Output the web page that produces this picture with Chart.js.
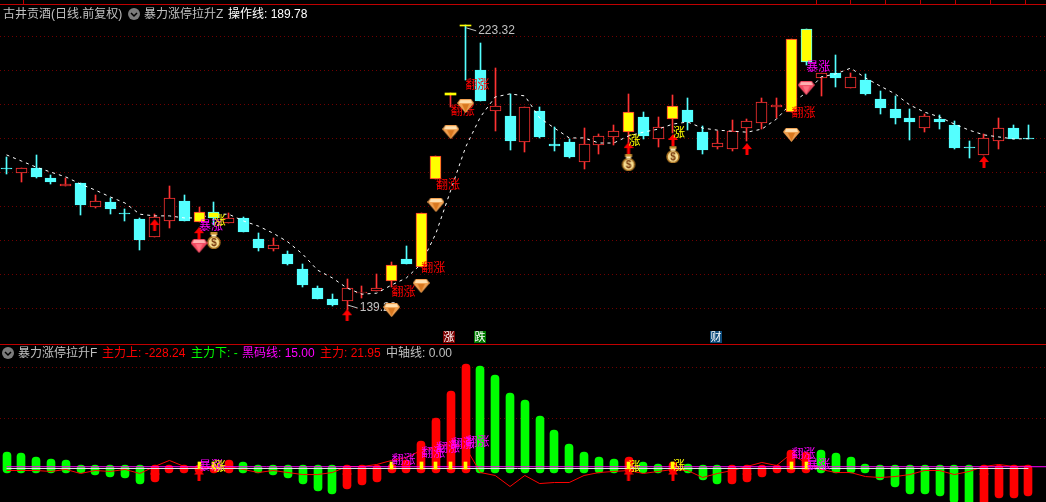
<!DOCTYPE html>
<html>
<head>
<meta charset="utf-8">
<title>古井贡酒</title>
<script src="https://cdn.jsdelivr.net/npm/chart.js@4"></script>
<style>
    html, body { margin: 0; padding: 0; background: #000; overflow: hidden; }
    #page { position: relative; width: 1046px; height: 502px; background: #000; font: 12px "Liberation Sans", "Noto Sans CJK SC", sans-serif; }
    #priceBox { position: absolute; left: 0; top: 0; width: 1046px; height: 344px; }
    #forceBox { position: absolute; left: 0; top: 344px; width: 1046px; height: 158px; }
    .rule { position: absolute; left: 0; width: 1046px; height: 1px; background: #c00000; }
    .tick { position: absolute; top: 0; width: 1px; height: 4px; background: #c00000; }
    .txt { position: absolute; white-space: nowrap; line-height: 14px; }
    .tag { position: absolute; top: 331px; width: 12px; height: 12px; line-height: 12px; text-align: center; color: #fff; font-size: 11px; }
    .fold { position: absolute; width: 12px; height: 12px; border-radius: 6px; background: #7c7c7c; }
</style>
</head>
<body>
<div id="page">
    <div id="priceBox"><canvas id="priceChart"></canvas></div>
    <div id="forceBox"><canvas id="forceChart"></canvas></div>

    <div class="rule" style="top:4px"></div>
    <div class="rule" style="top:344px"></div>

    <span class="txt" style="left:3px;top:7px;color:#c0c0c0">古井贡酒(日线.前复权)</span>
    <div class="fold" style="left:128px;top:8px"><svg width="12" height="12"><path d="M3 5l3 3 3-3" stroke="#000" stroke-width="1.5" fill="none"/></svg></div>
    <span class="txt" style="left:144px;top:7px;color:#c0c0c0">暴力涨停拉升Z</span>
    <span class="txt" style="left:228px;top:7px;color:#fff">操作线: 189.78</span>

    <div class="fold" style="left:2px;top:347px"><svg width="12" height="12"><path d="M3 5l3 3 3-3" stroke="#000" stroke-width="1.5" fill="none"/></svg></div>
    <span class="txt" style="left:18px;top:346px;color:#c0c0c0">暴力涨停拉升F</span>
    <span class="txt" style="left:102px;top:346px;color:#ff0000">主力上: -228.24</span>
    <span class="txt" style="left:191px;top:346px;color:#00ff00">主力下: -</span>
    <span class="txt" style="left:242px;top:346px;color:#ff00ff">黑码线: 15.00</span>
    <span class="txt" style="left:320px;top:346px;color:#ff0000">主力: 21.95</span>
    <span class="txt" style="left:386px;top:346px;color:#c0c0c0">中轴线: 0.00</span>

    <span class="tag" style="left:443px;background:#7a0000">涨</span>
    <span class="tag" style="left:474px;background:#007a00">跌</span>
    <span class="tag" style="left:710px;background:#0c4a7a">财</span>
</div>

<script>
"use strict";

const openPrices = [
    181.1, 179.6, 181.1, 178.2, 175.8, 176.7, 169.6, 171.1, 167.8, 166.1,
    160.8, 165.5, 171.4, 165.2, 168.1, 164.9, 166.4, 160.2, 157.2, 155.7,
    151.3, 145.7, 142.5, 141.9, 144.2, 144.8, 147.8, 154.3, 151.9, 177.9,
    202.8, 223.32, 210.0, 197.9, 196.5, 188.8, 197.9, 188.2, 188.8, 182.9,
    187.9, 190.3, 191.7, 196.2, 189.7, 195.6, 198.2, 191.7, 187.3, 186.7,
    192.9, 194.4, 199.1, 197.6, 222.1, 207.7, 209.2, 204.7, 207.1, 201.5,
    198.5, 195.9, 192.9, 195.6, 193.8, 187.3, 185.0, 189.1, 192.9, 190.0
];
const closePrices = [
    180.8, 181.1, 178.5, 177.0, 176.4, 170.2, 171.4, 169.0, 167.5, 159.9,
    166.7, 172.3, 165.5, 168.1, 166.4, 166.4, 162.2, 157.5, 158.4, 152.8,
    146.6, 142.5, 140.7, 145.7, 144.5, 145.7, 152.5, 152.8, 167.8, 184.7,
    203.2, 223.0, 200.9, 199.4, 189.1, 199.1, 190.3, 187.6, 184.4, 188.2,
    190.6, 192.0, 197.6, 190.6, 193.2, 199.4, 194.7, 186.4, 188.5, 192.0,
    195.0, 200.6, 199.7, 219.2, 212.4, 209.2, 207.7, 208.0, 203.0, 198.8,
    195.9, 194.7, 196.5, 194.7, 187.0, 187.0, 190.0, 192.9, 189.7, 189.78
];
const highPrices = [
    184.4, 181.1, 185.0, 179.1, 178.2, 176.7, 173.2, 172.3, 169.0, 166.4,
    167.5, 175.8, 173.2, 169.6, 171.1, 167.8, 166.7, 161.9, 160.5, 156.6,
    152.8, 146.3, 143.9, 148.4, 146.3, 149.8, 153.4, 158.1, 167.8, 184.7,
    203.2, 223.32, 218.0, 210.6, 203.0, 199.1, 199.1, 193.2, 189.7, 192.9,
    191.2, 193.8, 203.0, 197.6, 196.2, 202.7, 201.8, 193.5, 192.0, 195.3,
    195.6, 201.8, 201.8, 219.2, 222.1, 209.2, 214.5, 209.2, 208.9, 203.8,
    202.4, 198.5, 197.1, 196.8, 195.0, 189.1, 191.2, 195.9, 193.8, 193.8
];
const lowPrices = [
    179.4, 177.0, 178.2, 176.4, 175.8, 167.3, 169.3, 167.5, 165.5, 156.9,
    160.8, 163.4, 165.5, 165.2, 164.3, 164.9, 162.2, 156.6, 156.6, 152.5,
    146.0, 142.5, 140.4, 139.2, 142.8, 144.8, 146.0, 152.8, 151.9, 177.9,
    199.1, 207.1, 200.9, 192.0, 186.4, 185.8, 190.0, 186.1, 184.1, 180.8,
    185.2, 187.9, 188.5, 189.7, 187.3, 191.4, 192.3, 185.2, 186.7, 186.1,
    189.1, 192.6, 195.9, 197.6, 211.5, 202.4, 205.0, 204.7, 202.7, 197.1,
    194.1, 189.4, 191.7, 192.6, 186.7, 184.1, 185.0, 186.7, 189.7, 189.78
];
const operationLine = [
    185.0, 183.2, 181.4, 179.9, 178.5, 176.4, 174.6, 172.6, 170.8, 167.5,
    167.0, 167.0, 166.4, 166.4, 167.5, 167.5, 165.5, 164.0, 161.9, 159.3,
    155.7, 151.0, 148.7, 145.7, 143.9, 144.2, 146.6, 148.7, 152.8, 161.9,
    174.6, 187.3, 196.2, 202.1, 203.0, 202.4, 195.9, 192.9, 190.0, 190.0,
    188.5, 188.5, 190.6, 191.7, 192.6, 194.1, 194.7, 192.9, 192.3, 192.0,
    191.7, 192.6, 195.6, 200.3, 203.3, 208.0, 208.9, 210.6, 207.7, 205.3,
    203.0, 199.7, 197.6, 196.2, 194.1, 192.3, 190.9, 190.3, 189.7, 189.78
];
const limitBars = [13, 14, 26, 28, 29, 30, 31, 42, 45, 53, 54];
const priceGrid = [219.93, 209.9, 199.87, 189.83, 179.8, 169.77, 159.73, 149.7, 139.67];

const arrowBars = [10, 13, 23, 42, 45, 50, 66];
const arrowPrices = [164.3, 161.9, 137.7, 187.0, 189.4, 186.7, 182.9];
const orangeGemBars = [26, 28, 29, 30, 31, 53];
const orangeGemPrices = [139.2, 146.3, 170.2, 191.7, 199.4, 190.9];
const redGemBars = [13, 54];
const redGemPrices = [158.1, 204.7];
const moneyBars = [14, 42, 45];
const moneyPrices = [159.9, 182.9, 185.2];

const priceFlagBars = [13, 14, 26, 28, 29, 30, 31, 42, 45, 53, 54];
const priceFlagTexts = ["暴涨", "涨", "翻涨", "翻涨", "翻涨", "翻涨", "翻涨", "涨", "涨", "翻涨", "暴涨"];
const priceFlagLevels = [164.3, 165.8, 144.8, 151.9, 176.4, 198.2, 205.9, 189.4, 191.7, 197.4, 211.2];
const priceFlagColors = ["#ff00ff", "#ffff00", "#ff0000", "#ff0000", "#ff0000", "#ff0000", "#ff0000", "#ffff00", "#ffff00", "#ff0000", "#ff00ff"];

const mainUp = [
    null, null, null, null, null, null, null, null, null, null,
    -110, -42, -42, -34, -34, 68, null, null, null, null,
    null, null, null, -177, -143, -110, 42, 68, 236, 430,
    658, 878, null, null, null, null, null, null, null, null,
    null, null, 93, null, null, 51, null, null, null, -135,
    -118, -68, -42, 152, 143, null, null, null, null, null,
    null, null, null, null, null, null, -312, -253, -245, -228.24
];
const mainDown = [
    143, 127, 101, 76, 68, -42, -51, -68, -84, -135,
    null, null, null, null, null, null, 51, -42, -51, -84,
    -135, -186, -211, null, null, null, null, null, null, null,
    null, null, 869, 793, 641, 574, 447, 321, 203, 143,
    101, 84, null, 51, 34, null, 34, -101, -135, null,
    null, null, null, null, null, 160, 135, 101, 42, -93,
    -160, -211, -219, -236, -287, -312, null, null, null, null
];
const mainLine = [
    -17, -17, -17, -25, -8, -42, -17, -25, -8, -42,
    17, 68, 17, 8, 8, 17, -8, -34, -17, -34,
    -51, -51, -34, 17, 17, 34, 68, 93, 152, 177,
    211, 177, -34, -59, -152, -59, -127, -118, -118, -59,
    -34, -25, -17, -42, -25, -8, -17, -76, -42, -17,
    17, 51, 25, 127, 42, -8, -34, -34, -68, -76,
    -68, -51, -17, -17, -51, -25, 17, 34, 17, 21.95
];
const blackCodeLevel = 15;
const axisLevel = 0;
const forceGrid = [852, 422];
const forceMarkLow = -8;
const forceMarkHigh = 51;
const forceArrowLevel = -51;

const forceFlagBars = [13, 14, 26, 28, 29, 30, 31, 42, 45, 53, 54];
const forceFlagTexts = ["暴涨", "涨", "翻涨", "翻涨", "翻涨", "翻涨", "翻涨", "涨", "涨", "翻涨", "暴涨"];
const forceFlagLevels = [25, 17, 76, 135, 177, 211, 228, 17, 25, 127, 34];
const forceFlagColors = ["#ff00ff", "#ffff00", "#ff00ff", "#ff00ff", "#ff00ff", "#ff00ff", "#ff00ff", "#ffff00", "#ffff00", "#ff00ff", "#ff00ff"];

const priceNotes = [
    { text: "223.32", bar: 31.85, level: 221.6 },
    { text: "139.20", bar: 23.85, level: 139.8 }
];

const topTicks = [23, 816, 850, 885, 920, 955, 990, 1025];

const cyan = "#54ffff";
const candleRed = "#ff3232";

topTicks.forEach(x => {
    const t = document.createElement("div");
    t.className = "tick";
    t.style.left = x + "px";
    document.getElementById("page").appendChild(t);
});

function sprite(w, h, paint) {
    const c = document.createElement("canvas");
    c.width = w;
    c.height = h;
    paint(c.getContext("2d"));
    return c;
}

const arrowIcon = sprite(10, 12, g => {
    g.fillStyle = "#ff0000";
    g.beginPath();
    g.moveTo(5, 0); g.lineTo(10, 6); g.lineTo(6.5, 6); g.lineTo(6.5, 12);
    g.lineTo(3.5, 12); g.lineTo(3.5, 6); g.lineTo(0, 6);
    g.closePath();
    g.fill();
});

function gem(top, body, shade) {
    return sprite(17, 14, g => {
        g.fillStyle = body;
        g.beginPath();
        g.moveTo(3, 0); g.lineTo(14, 0); g.lineTo(17, 4); g.lineTo(8.5, 14); g.lineTo(0, 4);
        g.closePath();
        g.fill();
        g.fillStyle = top;
        g.beginPath();
        g.moveTo(3, 1); g.lineTo(14, 1); g.lineTo(15, 4); g.lineTo(2, 4);
        g.closePath();
        g.fill();
        g.fillStyle = shade;
        g.beginPath();
        g.moveTo(5, 5); g.lineTo(12, 5); g.lineTo(8.5, 13);
        g.closePath();
        g.fill();
    });
}
const orangeGem = gem("#ffe0b0", "#f0a050", "#d87820");
const redGem = gem("#ffb0b0", "#f04860", "#ff7080");

const moneyIcon = sprite(16, 18, g => {
    g.fillStyle = "#f6dc90";
    g.strokeStyle = "#a87020";
    g.lineWidth = 1.5;
    g.beginPath();
    g.arc(8, 11.5, 6, 0, Math.PI * 2);
    g.fill();
    g.stroke();
    g.fillStyle = "#c89030";
    g.fillRect(4.5, 1, 7, 3);
    g.fillStyle = "#fff0c0";
    g.fillRect(5.5, 3.5, 5, 2);
    g.fillStyle = "#7a3c10";
    g.font = "bold 10px 'Liberation Sans'";
    g.textAlign = "center";
    g.textBaseline = "middle";
    g.fillText("$", 8, 12);
});

const xRange = { type: "linear", display: false, offset: false, min: -0.44, max: 70.19 };

function zip(bars, values) {
    return bars.map((b, k) => ({ x: b, y: values[k] }));
}

function series(values) {
    return values.map((v, i) => ({ x: i, y: v }));
}

function yAxis(min, max, levels) {
    return {
        min: min,
        max: max,
        afterFit: s => { s.width = 0; },
        afterBuildTicks: s => { s.ticks = levels.map(v => ({ value: v })); },
        ticks: { display: false },
        border: { display: false, dash: [1, 3] },
        grid: { color: "#700000", lineWidth: 1, drawTicks: false }
    };
}

const isLimit = i => limitBars.includes(i);
const isUp = i => closePrices[i] >= openPrices[i];

// snap bars to whole pixels, the original is a bitmap chart
const crispBars = {
    id: "crispBars",
    afterDatasetsUpdate(chart) {
        chart.data.datasets.forEach((ds, k) => {
            if (ds.type !== "bar") return;
            chart.getDatasetMeta(k).data.forEach(el => {
                const even = ds.barThickness % 2 === 0;
                el.x = even ? Math.round(el.x) : Math.floor(el.x) + 0.5;
                el.y = Math.round(el.y);
                el.base = Math.round(el.base);
            });
        });
    }
};

// flag words sit just under the icon layer, left edge on their bar
const flagWords = {
    id: "flagWords",
    beforeDatasetDraw(chart, args, opts) {
        if (chart.data.datasets[args.index].label !== "icons") return;
        const g = chart.ctx;
        const { x, y } = chart.scales;
        g.save();
        g.font = "12px 'Noto Sans CJK SC'";
        g.textBaseline = "middle";
        opts.bars.forEach((b, k) => {
            g.fillStyle = opts.colors[k];
            g.fillText(opts.texts[k], x.getPixelForValue(b), y.getPixelForValue(opts.levels[k]));
        });
        g.font = "12px 'Liberation Sans'";
        g.fillStyle = "#c0c0c0";
        g.strokeStyle = "#c0c0c0";
        (opts.notes || []).forEach(n => {
            const nx = x.getPixelForValue(n.bar);
            const ny = y.getPixelForValue(n.level);
            g.fillText(n.text, nx, ny);
            g.beginPath();
            g.moveTo(nx - 12, ny - 3);
            g.lineTo(nx - 2, ny);
            g.stroke();
        });
        g.restore();
    }
};

new Chart(document.getElementById("priceChart"), {
    type: "bar",
    data: {
        datasets: [
            {
                type: "bar",
                label: "icons",
                order: 1,
                data: []
            },
            {
                type: "scatter",
                label: "arrows",
                order: 2,
                data: zip(arrowBars, arrowPrices),
                pointStyle: arrowIcon
            },
            {
                type: "scatter",
                label: "orange gems",
                order: 0,
                data: zip(orangeGemBars, orangeGemPrices),
                pointStyle: orangeGem
            },
            {
                type: "scatter",
                label: "red gems",
                order: 0,
                data: zip(redGemBars, redGemPrices),
                pointStyle: redGem
            },
            {
                type: "scatter",
                label: "money",
                order: 0,
                data: zip(moneyBars, moneyPrices),
                pointStyle: moneyIcon
            },
            {
                type: "bar",
                label: "limit bodies",
                order: 3,
                grouped: false,
                barThickness: 11,
                data: limitBars.map(i => ({ x: i, y: [openPrices[i], closePrices[i]] })),
                backgroundColor: "#ffff00",
                borderColor: limitBars.map(i => isUp(i) ? candleRed : cyan),
                borderWidth: limitBars.map(i => Math.abs(closePrices[i] - openPrices[i]) < 1 ? 0 : 1),
                borderSkipped: false
            },
            {
                type: "line",
                label: "操作线",
                order: 4,
                data: series(operationLine),
                borderColor: "#ffffff",
                borderWidth: 1,
                borderDash: [3, 4],
                pointRadius: 0
            },
            {
                type: "bar",
                label: "bodies",
                order: 5,
                grouped: false,
                barThickness: 11,
                data: openPrices.map((o, i) => ({ x: i, y: isLimit(i) ? null : [o, closePrices[i]] })),
                backgroundColor: openPrices.map((o, i) => isUp(i) ? "#000000" : cyan),
                borderColor: openPrices.map((o, i) => isUp(i) ? candleRed : cyan),
                borderWidth: 1,
                borderSkipped: false
            },
            {
                type: "bar",
                label: "wicks",
                order: 6,
                grouped: false,
                barThickness: 1,
                data: lowPrices.map((l, i) => ({ x: i, y: [l, highPrices[i]] })),
                backgroundColor: openPrices.map((o, i) => isUp(i) ? candleRed : cyan)
            }
        ]
    },
    options: {
        animation: false,
        responsive: true,
        maintainAspectRatio: false,
        events: [],
        layout: { padding: 0, autoPadding: false },
        elements: { point: { radius: 8 } },
        scales: {
            x: xRange,
            y: yAxis(129.2, 230.7, priceGrid)
        },
        plugins: {
            legend: { display: false },
            tooltip: { enabled: false },
            flagWords: {
                bars: priceFlagBars,
                texts: priceFlagTexts,
                levels: priceFlagLevels,
                colors: priceFlagColors,
                notes: priceNotes
            }
        }
    },
    plugins: [crispBars, flagWords]
});

new Chart(document.getElementById("forceChart"), {
    type: "bar",
    data: {
        datasets: [
            {
                type: "bar",
                label: "icons",
                order: 1,
                data: []
            },
            {
                type: "scatter",
                label: "arrows",
                order: 2,
                data: arrowBars.map(b => ({ x: b, y: forceArrowLevel })),
                pointStyle: arrowIcon
            },
            {
                type: "bar",
                label: "marks",
                order: 3,
                grouped: false,
                barThickness: 3,
                data: limitBars.map(i => ({ x: i, y: [forceMarkLow, forceMarkHigh] })),
                backgroundColor: "#ffff00"
            },
            {
                type: "line",
                label: "中轴线",
                order: 4,
                data: [{ x: 0, y: axisLevel }, { x: 69, y: axisLevel }],
                borderColor: "#e0e0e0",
                borderWidth: 1,
                pointRadius: 0
            },
            {
                type: "line",
                label: "黑码线",
                order: 5,
                data: [{ x: 0, y: blackCodeLevel }, { x: 70.19, y: blackCodeLevel }],
                borderColor: "#ff00ff",
                borderWidth: 1,
                pointRadius: 0
            },
            {
                type: "line",
                label: "主力",
                order: 6,
                data: series(mainLine),
                borderColor: "#ff0000",
                borderWidth: 1,
                pointRadius: 0
            },
            {
                type: "bar",
                label: "主力上",
                order: 7,
                grouped: false,
                barThickness: 8,
                data: mainUp.map((v, i) => ({ x: i, y: v === null ? null : [v > 0 ? -36 : 27, v] })),
                backgroundColor: "#ff0000",
                borderRadius: 4,
                borderSkipped: false
            },
            {
                type: "bar",
                label: "主力下",
                order: 8,
                grouped: false,
                barThickness: 8,
                data: mainDown.map((v, i) => ({ x: i, y: v === null ? null : [v > 0 ? -36 : 27, v] })),
                backgroundColor: "#00ff00",
                borderRadius: 4,
                borderSkipped: false
            }
        ]
    },
    options: {
        animation: false,
        responsive: true,
        maintainAspectRatio: false,
        events: [],
        layout: { padding: 0, autoPadding: false },
        elements: { point: { radius: 8 } },
        scales: {
            x: xRange,
            y: yAxis(-282.7, 1050.8, forceGrid)
        },
        plugins: {
            legend: { display: false },
            tooltip: { enabled: false },
            flagWords: {
                bars: forceFlagBars,
                texts: forceFlagTexts,
                levels: forceFlagLevels,
                colors: forceFlagColors
            }
        }
    },
    plugins: [crispBars, flagWords]
});
</script>
</body>
</html>
